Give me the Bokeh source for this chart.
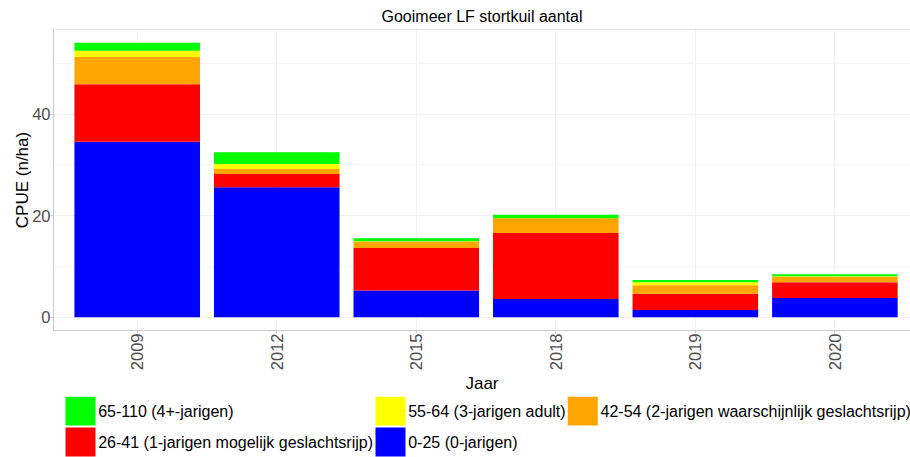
import math
from bokeh.plotting import figure
from bokeh.layouts import column
from bokeh.models import Range1d, FixedTicker, ColumnDataSource, Span
from bokeh.core.properties import value
from bokeh.embed import file_html
from bokeh.resources import INLINE

years = ["2009", "2012", "2015", "2018", "2019", "2020"]
c0_25 = [34.6, 25.6, 5.25, 3.6, 1.4, 3.8]
c26_41 = [11.3, 2.6, 8.4, 13.0, 3.2, 3.1]
c42_54 = [5.4, 1.0, 1.25, 2.9, 1.7, 1.05]
c55_64 = [1.2, 1.0, 0.05, 0.0, 0.6, 0.1]
c65_110 = [1.6, 2.3, 0.6, 0.7, 0.45, 0.4]

series_keys = ["c0_25", "c26_41", "c42_54", "c55_64", "c65_110"]
series_labels = ["0-25 (0-jarigen)", "26-41 (1-jarigen mogelijk geslachtsrijp)",
                 "42-54 (2-jarigen waarschijnlijk geslachtsrijp)", "55-64 (3-jarigen adult)",
                 "65-110 (4+-jarigen)"]
series_colors = ["#0000FF", "#FF0000", "#FFA500", "#FFFF00", "#00FF00"]
legend_order = [4, 3, 2, 1, 0]

y_ticks = [0, 20, 40]
y_minor = [10, 30, 50]

FONT = "Liberation Sans"
GREY_TXT = "#4D4D4D"
BORDER = "#CCCCCC"
GRID = "#F2F2F2"

Y_LO, Y_HI = -2.62, 56.7
FIG_W = 910
LEFT = 53
FRAME_W = FIG_W - LEFT

xpos = list(range(len(years)))
src = ColumnDataSource(dict(x=xpos, c0_25=c0_25, c26_41=c26_41, c42_54=c42_54,
                            c55_64=c55_64, c65_110=c65_110))

p = figure(width=FIG_W, height=396, output_backend="svg", toolbar_location=None,
           x_range=Range1d(-0.6, 5.542), y_range=Range1d(Y_LO, Y_HI),
           min_border_left=LEFT, min_border_right=0, min_border_top=29, min_border_bottom=66,
           title="Gooimeer LF stortkuil aantal")
p.outline_line_color = None
p.background_fill_color = "white"
p.border_fill_color = "white"

p.title.align = "center"
p.title.text_font = FONT
p.title.text_font_size = "16px"
p.title.text_font_style = "normal"
p.title.text_color = "black"
p.title.standoff = 9

renderers = p.vbar_stack(series_keys, x="x", width=0.9, source=src,
                         color=series_colors, line_color=None)

xa = p.xaxis[0]
xa.ticker = FixedTicker(ticks=xpos)
xa.major_label_overrides = {i: y for i, y in zip(xpos, years)}
xa.major_label_orientation = math.pi / 2
xa.axis_label = "Jaar"
xa.axis_label_standoff = 1
xa.major_label_standoff = 0
ya = p.yaxis[0]
ya.ticker = FixedTicker(ticks=y_ticks, minor_ticks=y_minor)
ya.axis_label = "CPUE (n/ha)"
ya.axis_label_standoff = -3
ya.major_label_standoff = -1
for ax in (xa, ya):
    ax.axis_line_color = BORDER
    ax.major_tick_line_color = BORDER
    ax.major_tick_out = 3
    ax.major_tick_in = 0
    ax.minor_tick_line_color = None
    ax.major_label_text_font = FONT
    ax.major_label_text_font_size = "16.5px"
    ax.major_label_text_color = GREY_TXT
    ax.axis_label_text_font = FONT
    ax.axis_label_text_font_size = "17px"
    ax.axis_label_text_font_style = "normal"
    ax.axis_label_text_color = "black"

p.add_layout(Span(location=Y_HI, dimension="width", line_color=BORDER, line_width=1))

p.xgrid.ticker = FixedTicker(ticks=xpos)
p.xgrid.grid_line_color = GRID
p.ygrid.grid_line_color = GRID
p.ygrid.minor_grid_line_color = "#F7F7F7"

# legend drawn in a strip below the chart (pixel coordinates relative to the plot frame's left edge)
LEG_H = 61
KEY_W, KEY_H = 30, 29
ROW_TOP = [0, 31]
COL_X = [12, 322, 514.3]
NCOL = 3
leg = dict(left=[], right=[], top=[], bottom=[], color=[], label=[], tx=[], ty=[])
for k, i in enumerate(legend_order):
    r, c = divmod(k, NCOL)
    x0, y0 = COL_X[c], ROW_TOP[r]
    leg["left"].append(x0)
    leg["right"].append(x0 + KEY_W)
    leg["top"].append(y0)
    leg["bottom"].append(y0 + KEY_H)
    leg["color"].append(series_colors[i])
    leg["label"].append(series_labels[i])
    leg["tx"].append(x0 + KEY_W + 2.7)
    leg["ty"].append(y0 + KEY_H / 2 + 0.5)
lsrc = ColumnDataSource(leg)

pl = figure(width=FIG_W, height=LEG_H, output_backend="svg", toolbar_location=None,
            x_range=Range1d(0, FRAME_W), y_range=Range1d(LEG_H, 0),
            x_axis_location=None, y_axis_location=None,
            min_border_left=LEFT, min_border_right=0, min_border_top=0, min_border_bottom=0)
pl.outline_line_color = None
pl.grid.visible = False
pl.quad(left="left", right="right", top="top", bottom="bottom", source=lsrc,
        fill_color="color", line_color=None)
pl.text(x="tx", y="ty", text="label", source=lsrc, text_font=value(FONT),
        text_font_size="16px", text_baseline="middle", text_align="left", text_color="black")

layout = column(p, pl, spacing=0)
open("out.html", "w").write(file_html(layout, INLINE))
